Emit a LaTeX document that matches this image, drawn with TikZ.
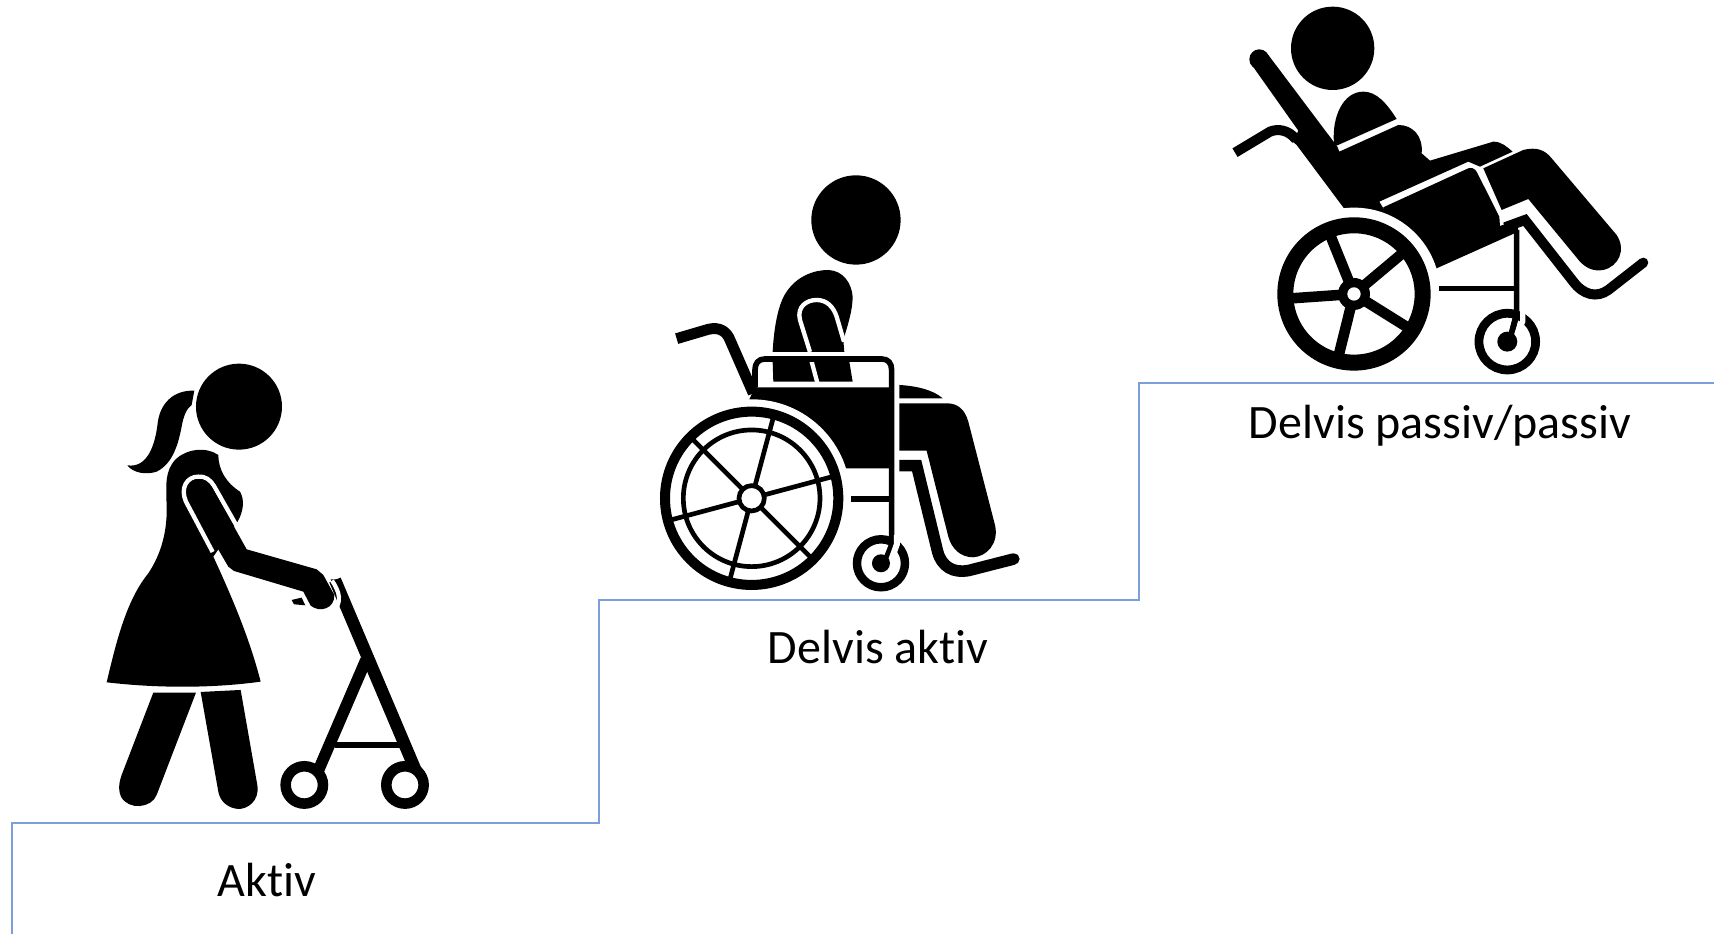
\documentclass[tikz,border=0pt]{standalone}
\usepackage{fontspec}
\setmainfont[Ligatures=NoCommon]{Carlito}
\definecolor{stairblue}{HTML}{7C9ED9}
\tikzset{
  label/.style={inner sep=0pt,font=\fontsize{13.65}{16}\selectfont},
  gap/.style={draw=white,line width=1.23pt},
  spoke/.style={draw=black,line width=#1,line cap=butt},
}
\begin{document}
\begin{tikzpicture}[x=.01cm,y=-.01cm]
  \useasboundingbox (0,0) rectangle (1714,934);
  \draw[stairblue,line width=.55pt] (12,934) -- (12,823) -- (599,823) -- (599,600) -- (1139,600) -- (1139,383) -- (1714,383);
  \node[label] (aktiv) at (267,880) {Aktiv};
  \node[label] (delaktiv) at (878,647) {Delvis aktiv};
  \node[label] (delpassiv) at (1440,426) {Delvis passiv/passiv};
  % woman with walker
  \begin{scope}[shift={(90,340)},scale=.3333]
    \fill (447,200) circle (129);
    \fill (313,152) .. controls (250,150) and (210,190) .. (203,250) .. controls (195,320) and (170,385) .. (112,376) .. controls (130,400) and (170,405) .. (200,395) .. controls (250,370) and (265,310) .. (275,260) .. controls (280,230) and (290,205) .. (305,195) -- cycle;
    \fill (385,345) .. controls (350,320) and (290,325) .. (255,360) .. controls (225,395) and (228,430) .. (230,500) .. controls (232,570) and (215,640) .. (175,700) .. controls (110,780) and (80,900) .. (50,1027) .. controls (200,1045) and (370,1045) .. (512,1025) .. controls (480,900) and (430,780) .. (370,650) -- (443,545) .. controls (460,515) and (465,480) .. (450,455) .. controls (410,430) and (385,390) .. (385,345) -- cycle;
    \draw[spoke=3.5pt] (735,720) -- (985,1310);
    \fill (722,718) -- (742,718) -- (755,735) -- (735,745) -- cycle;
    \draw[spoke=3.3pt] (828,960) -- (672,1322);
    \draw[spoke=1.6pt] (735,1216) -- (935,1216);
    \draw[draw=white,line width=1.2pt] (726,722) .. controls (752,760) and (752,785) .. (736,808);
    \draw[gap] (368,636) -- (288,485) .. controls (270,445) and (290,410) .. (325,410) .. controls (345,408) and (362,420) .. (372,438) -- (450,575);
    \fill (325,417) .. controls (295,418) and (285,450) .. (297,478) -- (415,680) -- (432,693) -- (640,755) -- (662,797) .. controls (690,820) and (735,805) .. (733,765) -- (700,705) -- (680,688) -- (470,628) -- (365,440) .. controls (355,425) and (340,417) .. (325,417) -- cycle;
    \fill (605,780) -- (635,773) -- (646,796) -- (612,793) -- cycle;
    \fill[white] (643,1335) circle (56);
    \draw[spoke=3pt] (643,1335) circle (56);
    \fill[white] (945,1335) circle (56);
    \draw[spoke=3pt] (945,1335) circle (56);
    \fill (190,1058) -- (318,1058) -- (200,1365) .. controls (185,1405) and (115,1412) .. (93,1370) .. controls (82,1345) and (90,1320) .. (95,1305) -- cycle;
    \fill (332,1056) -- (452,1050) -- (502,1335) .. controls (510,1385) and (470,1408) .. (445,1407) .. controls (415,1405) and (390,1385) .. (385,1355) -- cycle;
  \end{scope}
  % seated person in wheelchair
  \begin{scope}[shift={(640,160)},scale=.3333]
    \fill (648,180) circle (134);
    \fill (398,576) .. controls (402,500) and (415,430) .. (440,395) .. controls (470,350) and (520,330) .. (565,330) .. controls (610,332) and (635,370) .. (638,410) .. controls (638,450) and (625,490) .. (610,540) -- (613,576) -- cycle;
    \fill (398,605) -- (628,605) -- (638,665) -- (400,665) -- cycle;
    \draw[gap] (612,545) -- (590,470) .. controls (580,440) and (560,420) .. (530,420) .. controls (500,420) and (470,440) .. (480,480) -- (510,576);
    \draw[gap] (515,605) -- (532,668);
    \draw[spoke=3.1pt] (110,536) -- (205,508) .. controls (240,500) and (260,515) .. (270,540) -- (340,700);
    \fill (345,682) -- (755,682) -- (755,925) -- (618,925) -- (500,1000) -- (328,718) -- cycle;
    \fill[white] (335,1015) circle (297);
    \draw[spoke=1.6pt,line join=round] (345,682) -- (345,630) .. controls (345,610) and (355,597) .. (375,597) -- (725,597) .. controls (745,597) and (755,610) .. (755,630) -- (755,1130) -- (755,1155) -- (735,1205);
    \draw[spoke=2.85pt] (335,1015) circle (260);
    \draw[spoke=1.33pt] (335,1015) circle (205);
    \foreach \a in {-75,-15,45,105,165,225}
      \draw[spoke=1.33pt] (335,1015) -- ++(\a:250);
    \fill[white] (335,1015) circle (38);
    \draw[spoke=1.33pt] (335,1015) circle (38);
    \fill (778,675) .. controls (830,678) and (880,690) .. (908,715) -- (778,715) -- cycle;
    \fill (778,730) -- (920,730) .. controls (955,730) and (975,750) .. (985,785) -- (1065,1095) .. controls (1078,1150) and (1040,1190) .. (1000,1192) .. controls (960,1192) and (935,1165) .. (925,1130) -- (860,872) -- (778,872) -- cycle;
    \draw[spoke=3.3pt] (778,917) -- (830,917) -- (893,1175) .. controls (905,1220) and (940,1240) .. (985,1232) -- (1122,1197);
    \fill (1122,1197) circle (17);
    \draw[spoke=1.7pt] (633,1017) -- (750,1017);
    \draw[spoke=2.4pt] (723,1210) circle (72);
    \draw[draw=white,line width=1.7pt] (771,1125) -- (771,1152) -- (752,1205);
    \fill (723,1210) circle (27);
  \end{scope}
  % reclined person in wheelchair
  \begin{scope}[shift={(1220,0)},scale=.3333]
    \fill (338,145) circle (125);
    \fill (342,430) .. controls (335,350) and (370,275) .. (430,275) .. controls (470,275) and (500,310) .. (530,357) -- (350,437) -- cycle;
    \draw[spoke=2.85pt] (45,458) -- (150,395) .. controls (175,385) and (205,390) .. (228,418);
    \fill (118,178) circle (30);
    \fill (92,190) -- (145,165) -- (352,440) -- (358,455) -- (535,375) .. controls (580,375) and (610,410) .. (605,460) -- (630,482) -- (820,425) .. controls (845,425) and (860,440) .. (878,455) -- (780,500) -- (745,485) -- (478,605) -- (490,625) -- (550,700) -- (372,625) -- (230,435) -- (218,425) -- (235,392) -- cycle;
    \fill (490,622) -- (745,505) .. controls (765,500) and (770,515) .. (775,525) -- (838,650) -- (840,678) -- (890,660) -- (895,695) -- (650,805) -- (500,800) -- cycle;
    \fill[white] (402,882) circle (259);
    \fill (790,505) -- (910,450) .. controls (950,440) and (975,450) .. (995,475) -- (1190,705) .. controls (1220,750) and (1195,800) .. (1150,810) .. controls (1120,815) and (1100,805) .. (1080,785) -- (925,597) -- (845,630) -- cycle;
    \draw[spoke=2.85pt] (855,682) -- (915,660) -- (1060,845) .. controls (1090,885) and (1130,895) .. (1165,870) -- (1270,788);
    \fill (1270,788) circle (15);
    \draw[spoke=4.55pt] (402,882) circle (206);
    \foreach \a in {-112,-40,32,104,176}
      \draw[spoke=3pt] (402,882) -- ++(\a:190);
    \fill (402,882) circle (48);
    \fill[white] (402,882) circle (20);
    \draw[spoke=1.6pt] (890,690) -- (890,945) -- (872,1010);
    \draw[spoke=1.6pt] (658,866) -- (885,866);
    \draw[spoke=2.5pt] (862,1025) circle (85);
    \draw[draw=white,line width=1.5pt] (908,925) -- (908,965) -- (885,1010);
    \draw[spoke=1.6pt] (890,940) -- (872,1010);
    \fill (862,1025) circle (30);
  \end{scope}
\end{tikzpicture}
\end{document}
